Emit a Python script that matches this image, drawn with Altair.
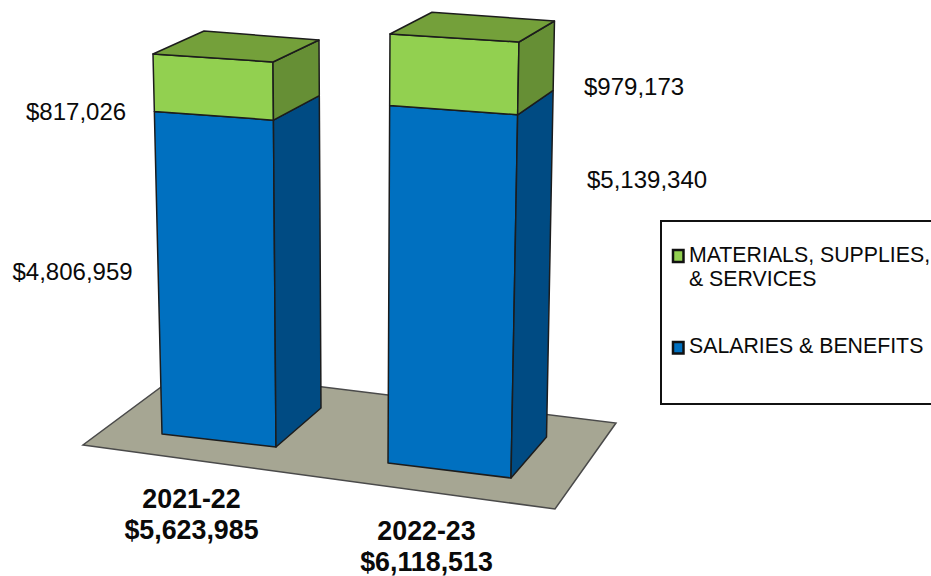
import altair as alt
import pandas as pd

# Budget figures, in dollars
YEARS = ["2021-22", "2022-23"]
SALARIES = [4806959, 5139340]
MATERIALS = [817026, 979173]
SERIES_NAMES = ["SALARIES & BENEFITS", "MATERIALS, SUPPLIES,\n& SERVICES"]

W, H = 931, 576

# Perspective camera: footprint corners of each column (front-left, front-right,
# back-right, back-left) and how far each corner moves per projected million.
FOOTPRINTS = [
    [(162, 434), (276, 447), (321, 408), (207, 395)],
    [(388, 463), (511, 478), (546.5, 437), (425, 424)],
]
RISES = [
    [(-1.53, -64.53), (-0.51, -65.38), (-0.34, -62.49), (-0.51, -61.81)],
    [(0.31, -66.68), (1.24, -67.77), (1.24, -64.66), (1.09, -64.00)],
]
FORESHORTEN = -0.008
FLOOR = [(83, 445), (555, 509), (616, 423), (184, 370)]

FRONT = {"salaries": "#0070C0", "materials": "#92D050"}
SIDE = {"salaries": "#004B83", "materials": "#668F35"}
TOP = "#74A03A"
FLOOR_FILL = "#A6A693"
EDGE = "#1C1C1C"
INK = "#0A0A0A"


def project(bar, corner, dollars):
    """Screen position of a column corner at a given stacked dollar height."""
    millions = dollars / 1e6
    s = millions / (1 + FORESHORTEN * millions)
    bx, by = FOOTPRINTS[bar][corner]
    rx, ry = RISES[bar][corner]
    return (bx + rx * s, by + ry * s)


def polygon(points, fill):
    ring = [list(p) for p in points] + [list(points[0])]
    return {
        "type": "Feature",
        "geometry": {"type": "Polygon", "coordinates": [ring]},
        "properties": {"fill": fill},
    }


faces = []
for i in range(len(YEARS)):
    total = SALARIES[i] + MATERIALS[i]
    for key, low, high in (("salaries", 0, SALARIES[i]), ("materials", SALARIES[i], total)):
        faces.append(polygon([project(i, 0, low), project(i, 1, low),
                              project(i, 1, high), project(i, 0, high)], FRONT[key]))
        faces.append(polygon([project(i, 1, low), project(i, 2, low),
                              project(i, 2, high), project(i, 1, high)], SIDE[key]))
    faces.append(polygon([project(i, c, total) for c in range(4)], TOP))

identity = alt.Projection(type="identity", scale=1, translate=[0, 0])

floor_layer = alt.Chart(alt.Data(values=[polygon(FLOOR, FLOOR_FILL)])).mark_geoshape(
    stroke="#4A4A4A", strokeWidth=1.5, fill=FLOOR_FILL
).project(**identity.to_dict())

columns_layer = alt.Chart(alt.Data(values=faces)).mark_geoshape(
    stroke=EDGE, strokeWidth=1.5, strokeJoin="round"
).encode(
    fill=alt.Fill("properties.fill:N", scale=None, legend=None)
).project(**identity.to_dict())

x_scale = alt.Scale(domain=[0, W], nice=False, zero=False)
y_scale = alt.Scale(domain=[H, 0], nice=False, zero=False)
X = alt.X("x:Q", scale=x_scale, axis=None)
Y = alt.Y("y:Q", scale=y_scale, axis=None)

# Value callouts beside the columns
value_labels = pd.DataFrame({
    "x": [26, 12.5, 584, 587],
    "y": [113, 273, 88, 181],
    "label": [f"${MATERIALS[0]:,}", f"${SALARIES[0]:,}",
              f"${MATERIALS[1]:,}", f"${SALARIES[1]:,}"],
})
value_layer = alt.Chart(value_labels).mark_text(
    font="Liberation Sans", fontSize=24, align="left", baseline="middle", color=INK
).encode(x=X, y=Y, text="label:N")

# Year and total under each column
category_labels = pd.DataFrame({
    "x": [191.5, 191.5, 426.5, 426.5],
    "y": [500, 531, 532, 563],
    "label": [YEARS[0], f"${SALARIES[0] + MATERIALS[0]:,}",
              YEARS[1], f"${SALARIES[1] + MATERIALS[1]:,}"],
})
category_layer = alt.Chart(category_labels).mark_text(
    font="Liberation Sans", fontSize=26.8, fontWeight="bold", align="center",
    baseline="middle", color=INK
).encode(x=X, y=Y, text="label:N")

# Hand-drawn key box, running off the right edge
box = pd.DataFrame({"x": [661], "x2": [950], "y": [221], "y2": [404]})
box_layer = alt.Chart(box).mark_rect(
    fill="white", stroke="#111111", strokeWidth=2, clip=True
).encode(x=X, x2="x2:Q", y=Y, y2="y2:Q")

swatches = pd.DataFrame({
    "x": [673, 673], "x2": [683.5, 683.5], "y": [250, 342], "y2": [262, 353.5],
    "fill": [FRONT["materials"], FRONT["salaries"]],
})
swatch_layer = alt.Chart(swatches).mark_rect(stroke="#111111", strokeWidth=2.5).encode(
    x=X, x2="x2:Q", y=Y, y2="y2:Q", fill=alt.Fill("fill:N", scale=None, legend=None)
)

first, second = SERIES_NAMES[1].split("\n")
key_labels = pd.DataFrame({
    "x": [689, 689, 689], "y": [256, 280, 347],
    "label": [first, second, SERIES_NAMES[0]],
})
key_layer = alt.Chart(key_labels).mark_text(
    font="Liberation Sans", fontSize=21.3, align="left", baseline="middle", color=INK
).encode(x=X, y=Y, text="label:N")

chart = alt.layer(
    floor_layer, columns_layer, value_layer, category_layer,
    box_layer, swatch_layer, key_layer,
).resolve_scale(x="shared", y="shared").properties(
    width=W, height=H, padding=0, autosize=alt.AutoSizeParams(type="none"),
    background="white",
).configure_view(stroke=None)

chart.save("out.html", embed_options={"renderer": "svg", "actions": False})
